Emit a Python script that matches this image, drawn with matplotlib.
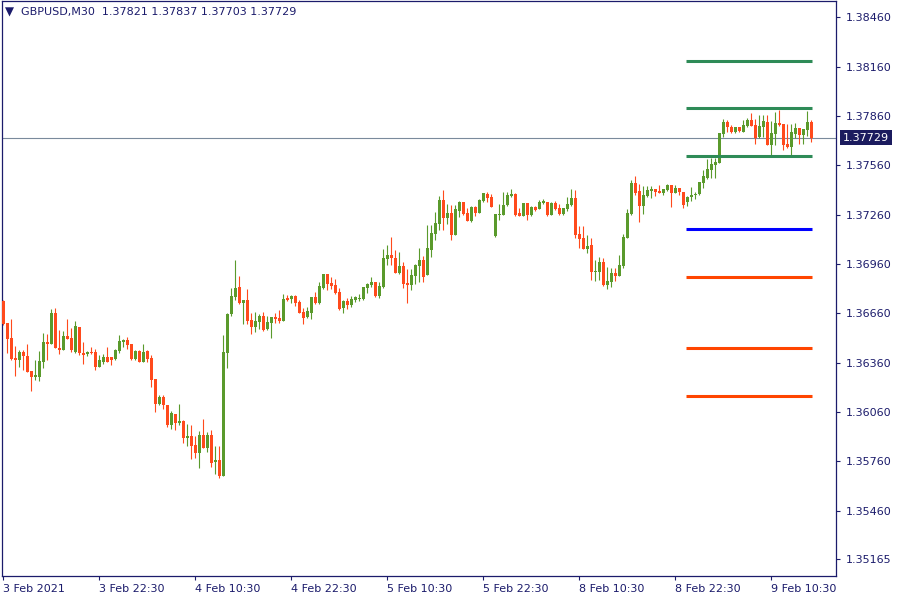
import matplotlib
matplotlib.use('Agg')
import matplotlib.pyplot as plt
import numpy as np

# GBPUSD M30 candles, 3 Feb 10:30 -> 9 Feb 11:30
opens = [
    1.36735, 1.36601, 1.36510, 1.36388, 1.36376, 1.36424, 1.36400, 1.36309, 1.36272, 1.36272,
    1.36364, 1.36485, 1.36473, 1.36662, 1.36449, 1.36437, 1.36522, 1.36510, 1.36424, 1.36577,
    1.36418, 1.36412, 1.36424, 1.36424, 1.36333, 1.36364, 1.36394, 1.36394, 1.36382, 1.36431,
    1.36485, 1.36498, 1.36473, 1.36381, 1.36430, 1.36363, 1.36430, 1.36388, 1.36260, 1.36107,
    1.36150, 1.36101, 1.35980, 1.36047, 1.35992, 1.36004, 1.35900, 1.35913, 1.35858, 1.35809,
    1.35919, 1.35839, 1.35919, 1.35754, 1.35766, 1.35669, 1.36418, 1.36655, 1.36759, 1.36820,
    1.36722, 1.36741, 1.36619, 1.36576, 1.36607, 1.36643, 1.36564, 1.36600, 1.36637, 1.36631,
    1.36613, 1.36753, 1.36747, 1.36765, 1.36728, 1.36667, 1.36637, 1.36661, 1.36759, 1.36722,
    1.36814, 1.36899, 1.36844, 1.36832, 1.36789, 1.36692, 1.36734, 1.36710, 1.36740, 1.36746,
    1.36746, 1.36813, 1.36832, 1.36850, 1.36765, 1.36819, 1.36990, 1.37014, 1.36996, 1.36905,
    1.36947, 1.36844, 1.36832, 1.36886, 1.36947, 1.36984, 1.36892, 1.37045, 1.37142, 1.37203,
    1.37349, 1.37240, 1.37270, 1.37136, 1.37282, 1.37337, 1.37270, 1.37221, 1.37307, 1.37270,
    1.37343, 1.37386, 1.37367, 1.37130, 1.37258, 1.37258, 1.37319, 1.37374, 1.37386, 1.37270,
    1.37252, 1.37331, 1.37258, 1.37307, 1.37294, 1.37331, 1.37337, 1.37258, 1.37331, 1.37300,
    1.37264, 1.37294, 1.37318, 1.37361, 1.37141, 1.37117, 1.37050, 1.37074, 1.36910, 1.36910,
    1.36971, 1.36831, 1.36849, 1.36904, 1.36886, 1.36946, 1.37117, 1.37263, 1.37452, 1.37403,
    1.37312, 1.37373, 1.37403, 1.37415, 1.37403, 1.37391, 1.37409, 1.37440, 1.37391, 1.37421,
    1.37397, 1.37336, 1.37366, 1.37379, 1.37385, 1.37452, 1.37482, 1.37531, 1.37561, 1.37573,
    1.37750, 1.37823, 1.37793, 1.37762, 1.37793, 1.37762, 1.37799, 1.37835, 1.37805, 1.37732,
    1.37793, 1.37823, 1.37683, 1.37750, 1.37817, 1.37811, 1.37689, 1.37671, 1.37750, 1.37786,
    1.37744, 1.37774, 1.37821,
]
highs = [
    1.36740, 1.36601, 1.36625, 1.36461, 1.36437, 1.36437, 1.36473, 1.36309, 1.36376, 1.36431,
    1.36540, 1.36534, 1.36686, 1.36692, 1.36558, 1.36552, 1.36625, 1.36571, 1.36613, 1.36577,
    1.36485, 1.36431, 1.36455, 1.36443, 1.36406, 1.36412, 1.36455, 1.36394, 1.36443, 1.36528,
    1.36504, 1.36516, 1.36473, 1.36436, 1.36436, 1.36473, 1.36436, 1.36406, 1.36260, 1.36162,
    1.36162, 1.36101, 1.36065, 1.36047, 1.36107, 1.36010, 1.35986, 1.35980, 1.35913, 1.35943,
    1.36016, 1.35937, 1.35949, 1.35852, 1.35852, 1.36528, 1.36665, 1.36814, 1.36984, 1.36887,
    1.36741, 1.36808, 1.36661, 1.36667, 1.36655, 1.36667, 1.36643, 1.36637, 1.36661, 1.36680,
    1.36777, 1.36771, 1.36771, 1.36771, 1.36741, 1.36692, 1.36698, 1.36759, 1.36789, 1.36850,
    1.36899, 1.36899, 1.36881, 1.36868, 1.36814, 1.36741, 1.36753, 1.36765, 1.36765, 1.36777,
    1.36819, 1.36844, 1.36880, 1.36850, 1.36850, 1.37051, 1.37075, 1.37124, 1.37045, 1.37033,
    1.36972, 1.36929, 1.36929, 1.36959, 1.37057, 1.37008, 1.37197, 1.37197, 1.37276, 1.37374,
    1.37410, 1.37325, 1.37319, 1.37319, 1.37343, 1.37337, 1.37300, 1.37313, 1.37313, 1.37355,
    1.37392, 1.37398, 1.37386, 1.37264, 1.37325, 1.37398, 1.37398, 1.37416, 1.37392, 1.37300,
    1.37331, 1.37331, 1.37313, 1.37313, 1.37349, 1.37355, 1.37337, 1.37337, 1.37343, 1.37325,
    1.37300, 1.37367, 1.37415, 1.37409, 1.37190, 1.37190, 1.37135, 1.37117, 1.36983, 1.37001,
    1.36995, 1.36940, 1.36934, 1.36934, 1.37013, 1.37141, 1.37294, 1.37470, 1.37494, 1.37446,
    1.37434, 1.37434, 1.37434, 1.37415, 1.37440, 1.37415, 1.37446, 1.37440, 1.37440, 1.37421,
    1.37397, 1.37373, 1.37427, 1.37397, 1.37458, 1.37531, 1.37598, 1.37604, 1.37604, 1.37756,
    1.37841, 1.37835, 1.37805, 1.37793, 1.37793, 1.37835, 1.37847, 1.37878, 1.37841, 1.37866,
    1.37866, 1.37866, 1.37829, 1.37884, 1.37896, 1.37811, 1.37811, 1.37811, 1.37817, 1.37786,
    1.37780, 1.37890, 1.37837,
]
lows = [
    1.36590, 1.36421, 1.36376, 1.36278, 1.36335, 1.36315, 1.36303, 1.36189, 1.36254, 1.36250,
    1.36327, 1.36376, 1.36473, 1.36449, 1.36412, 1.36437, 1.36504, 1.36425, 1.36418, 1.36406,
    1.36351, 1.36400, 1.36412, 1.36315, 1.36333, 1.36351, 1.36364, 1.36345, 1.36376, 1.36418,
    1.36455, 1.36443, 1.36376, 1.36375, 1.36363, 1.36363, 1.36363, 1.36211, 1.36059, 1.36101,
    1.36077, 1.35967, 1.35955, 1.35949, 1.35980, 1.35870, 1.35852, 1.35772, 1.35779, 1.35718,
    1.35839, 1.35815, 1.35724, 1.35681, 1.35657, 1.35669, 1.36327, 1.36643, 1.36741, 1.36716,
    1.36594, 1.36594, 1.36533, 1.36546, 1.36564, 1.36552, 1.36558, 1.36509, 1.36600, 1.36600,
    1.36613, 1.36734, 1.36722, 1.36704, 1.36661, 1.36594, 1.36631, 1.36625, 1.36716, 1.36716,
    1.36808, 1.36801, 1.36808, 1.36777, 1.36680, 1.36661, 1.36686, 1.36698, 1.36728, 1.36734,
    1.36740, 1.36783, 1.36819, 1.36758, 1.36752, 1.36813, 1.36953, 1.36953, 1.36905, 1.36899,
    1.36813, 1.36722, 1.36801, 1.36838, 1.36850, 1.36850, 1.36892, 1.37002, 1.37106, 1.37167,
    1.37167, 1.37203, 1.37106, 1.37136, 1.37246, 1.37258, 1.37221, 1.37215, 1.37252, 1.37270,
    1.37337, 1.37337, 1.37307, 1.37124, 1.37227, 1.37258, 1.37313, 1.37367, 1.37252, 1.37252,
    1.37252, 1.37227, 1.37252, 1.37282, 1.37294, 1.37325, 1.37252, 1.37258, 1.37288, 1.37258,
    1.37258, 1.37281, 1.37312, 1.37117, 1.37056, 1.37050, 1.37026, 1.36861, 1.36855, 1.36861,
    1.36825, 1.36806, 1.36818, 1.36855, 1.36886, 1.36934, 1.37117, 1.37257, 1.37379, 1.37214,
    1.37263, 1.37367, 1.37361, 1.37373, 1.37391, 1.37379, 1.37403, 1.37306, 1.37391, 1.37379,
    1.37300, 1.37312, 1.37342, 1.37354, 1.37379, 1.37421, 1.37476, 1.37482, 1.37482, 1.37573,
    1.37732, 1.37762, 1.37756, 1.37756, 1.37762, 1.37762, 1.37793, 1.37799, 1.37689, 1.37726,
    1.37732, 1.37683, 1.37622, 1.37683, 1.37799, 1.37653, 1.37665, 1.37610, 1.37726, 1.37689,
    1.37689, 1.37738, 1.37703,
]
closes = [
    1.36593, 1.36504, 1.36382, 1.36376, 1.36426, 1.36402, 1.36303, 1.36272, 1.36284, 1.36370,
    1.36485, 1.36473, 1.36662, 1.36449, 1.36437, 1.36522, 1.36504, 1.36437, 1.36583, 1.36418,
    1.36406, 1.36424, 1.36418, 1.36333, 1.36376, 1.36394, 1.36364, 1.36376, 1.36437, 1.36491,
    1.36498, 1.36467, 1.36382, 1.36430, 1.36363, 1.36424, 1.36381, 1.36254, 1.36107, 1.36150,
    1.36101, 1.35980, 1.36053, 1.35992, 1.36004, 1.35900, 1.35913, 1.35852, 1.35809, 1.35919,
    1.35839, 1.35919, 1.35748, 1.35766, 1.35669, 1.36424, 1.36659, 1.36765, 1.36814, 1.36722,
    1.36741, 1.36613, 1.36576, 1.36613, 1.36643, 1.36558, 1.36607, 1.36637, 1.36625, 1.36613,
    1.36747, 1.36741, 1.36765, 1.36722, 1.36661, 1.36631, 1.36674, 1.36759, 1.36722, 1.36826,
    1.36899, 1.36838, 1.36826, 1.36783, 1.36686, 1.36734, 1.36710, 1.36746, 1.36758, 1.36752,
    1.36819, 1.36838, 1.36850, 1.36765, 1.36825, 1.36996, 1.37014, 1.36996, 1.36905, 1.36947,
    1.36838, 1.36832, 1.36892, 1.36953, 1.36984, 1.36880, 1.37057, 1.37148, 1.37209, 1.37349,
    1.37240, 1.37270, 1.37136, 1.37294, 1.37337, 1.37264, 1.37221, 1.37307, 1.37270, 1.37349,
    1.37392, 1.37361, 1.37307, 1.37264, 1.37258, 1.37319, 1.37380, 1.37386, 1.37258, 1.37252,
    1.37331, 1.37258, 1.37307, 1.37288, 1.37337, 1.37343, 1.37258, 1.37331, 1.37294, 1.37264,
    1.37300, 1.37324, 1.37361, 1.37135, 1.37111, 1.37050, 1.37068, 1.36910, 1.36916, 1.36971,
    1.36831, 1.36855, 1.36904, 1.36886, 1.36952, 1.37123, 1.37269, 1.37452, 1.37391, 1.37312,
    1.37379, 1.37409, 1.37415, 1.37397, 1.37391, 1.37415, 1.37440, 1.37391, 1.37421, 1.37397,
    1.37318, 1.37366, 1.37379, 1.37385, 1.37458, 1.37494, 1.37537, 1.37567, 1.37579, 1.37756,
    1.37823, 1.37793, 1.37762, 1.37793, 1.37768, 1.37805, 1.37835, 1.37799, 1.37726, 1.37799,
    1.37829, 1.37683, 1.37756, 1.37817, 1.37805, 1.37683, 1.37671, 1.37762, 1.37786, 1.37744,
    1.37780, 1.37823, 1.37729,
]

date_labels = ['3 Feb 2021', '3 Feb 22:30', '4 Feb 10:30', '4 Feb 22:30', '5 Feb 10:30',
               '5 Feb 22:30', '8 Feb 10:30', '8 Feb 22:30', '9 Feb 10:30']
price_ticks = [1.38460, 1.38160, 1.37860, 1.37560, 1.37260, 1.36960, 1.36660,
               1.36360, 1.36060, 1.35760, 1.35460, 1.35165]
green_levels = [1.38194, 1.37908, 1.37617]
blue_levels = [1.37173]
red_levels = [1.36881, 1.36449, 1.36157]
symbol = 'GBPUSD,M30'

NAVY = '#1b1b6b'
BULL = '#5a9a2c'
BEAR = '#ff4a1c'

o = np.array(opens)
h = np.array(highs)
l = np.array(lows)
c = np.array(closes)
x = np.arange(len(o))
up = c >= o
col = np.where(up, BULL, BEAR)

fig = plt.figure(figsize=(9, 6), dpi=100)
ax = fig.add_axes([2/900, 24/600, 834/900, 575/600])

# current bid line
ax.axhline(c[-1], color='#7a8a9c', lw=0.8, zorder=1)

# wicks + bodies
ax.vlines(x, l, h, colors=col, lw=0.8, zorder=2)
body_h = np.maximum(np.abs(c - o), 0.00005)
ax.bar(x, body_h, bottom=np.minimum(o, c), width=0.72, color=col, lw=0, zorder=3)

# level lines
x0, x1 = 170.75, 202.25
for lev in green_levels:
    ax.hlines(lev, x0, x1, color='#2e8b57', lw=2.2, zorder=4)
for lev in blue_levels:
    ax.hlines(lev, x0, x1, color='#0000ff', lw=2.2, zorder=4)
for lev in red_levels:
    ax.hlines(lev, x0, x1, color='#ff4500', lw=2.2, zorder=4)

ax.set_xlim(-0.35, 208.2)
ax.set_ylim(1.35063, 1.38559)

ax.set_xticks(x[::24])
ax.set_xticklabels(date_labels, ha='left')
ax.yaxis.tick_right()
ax.set_yticks(price_ticks)
ax.set_yticklabels([f'{p:.5f}' for p in price_ticks])
ax.tick_params(axis='x', direction='out', length=3, pad=3, colors=NAVY, labelsize=8, width=0.8)
ax.tick_params(axis='y', direction='out', length=3, pad=4, colors=NAVY, labelsize=8, width=0.8)
for s in ax.spines.values():
    s.set_color(NAVY)
    s.set_linewidth(0.9)

# current price tag
ax.text(1.0085, c[-1], f'{c[-1]:.5f}', transform=ax.get_yaxis_transform(),
        ha='left', va='center', color='white', fontsize=8, clip_on=False, zorder=6,
        bbox=dict(boxstyle='square,pad=0.25', fc='#1b1b5e', ec='none'))

# header
fig.text(5/900, 1 - 12/600, '\u25bc', color=NAVY, fontsize=8.5, va='center', ha='left')
fig.text(21/900, 1 - 12/600,
         f'{symbol}  {o[-1]:.5f} {h[-1]:.5f} {l[-1]:.5f} {c[-1]:.5f}',
         color=NAVY, fontsize=8, va='center', ha='left')

fig.savefig('out.png', dpi=100, facecolor='white')
